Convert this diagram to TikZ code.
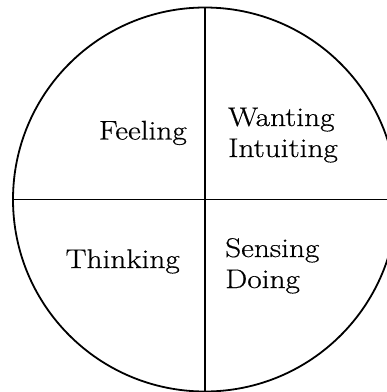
\documentclass[tikz,border=0pt]{standalone}
\usepackage{fontspec}
\setmainfont{Latin Modern Roman}[FakeStretch=1.16,FakeBold=0.5]
\begin{document}
\begin{tikzpicture}[x=1pt,y=-1pt,
  ring/.style={draw=black,line width=1.8pt},
  divider/.style={draw=black,line width=1.8pt},
  label/.style={inner sep=0pt,font=\fontsize{27}{31}\selectfont,align=left}]
\useasboundingbox (0,0) rectangle (387,392);
\clip (0,0) rectangle (387,392);
\coordinate (c) at (205,199.5);
\coordinate (top) at (205,7.5);
\coordinate (bot) at (205,391.5);
\coordinate (lft) at (13,199.5);
\coordinate (rgt) at (397,199.5);
\draw[ring] (c) circle[radius=192];
\draw[divider] (top) -- (bot);
\draw[divider] (lft) -- (rgt);
\node[label,anchor=base east] (feel) at (187,139.5) {Feeling};
\node[label,anchor=base west] (want) at (228,157) {Wanting\\Intuiting};
\node[label,anchor=base east] (think) at (180,268) {Thinking};
\node[label,anchor=base west] (sense) at (225,288) {Sensing\\Doing};
\end{tikzpicture}
\end{document}
